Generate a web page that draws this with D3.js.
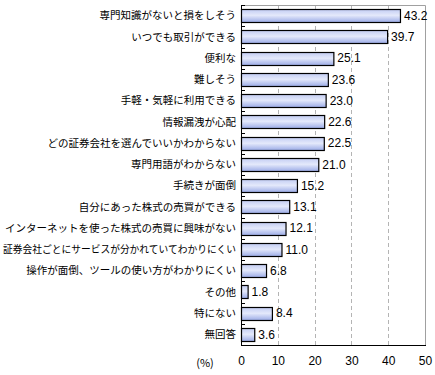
<!DOCTYPE html>
<html>
<head>
<meta charset="utf-8">
<script src="https://cdn.jsdelivr.net/npm/d3@7"></script>
<style>
  body { margin: 0; background: #fff; }
</style>
</head>
<body>
<div id="chart"></div>
<script>
// values
var categories = [
  "専門知識がないと損をしそう",
  "いつでも取引ができる",
  "便利な",
  "難しそう",
  "手軽・気軽に利用できる",
  "情報漏洩が心配",
  "どの証券会社を選んでいいかわからない",
  "専門用語がわからない",
  "手続きが面倒",
  "自分にあった株式の売買ができる",
  "インターネットを使った株式の売買に興味がない",
  "証券会社ごとにサービスが分かれていてわかりにくい",
  "操作が面倒、ツールの使い方がわかりにくい",
  "その他",
  "特にない",
  "無回答"
];
var values = [43.2, 39.7, 25.1, 23.6, 23.0, 22.6, 22.5, 21.0, 15.2, 13.1, 12.1, 11.0, 6.8, 1.8, 8.4, 3.6];
var xTicks = [0, 10, 20, 30, 40, 50];

var width = 435, height = 375;
// note: "top" is reserved on window, so plot edges get their own names
var plotLeft = 241, plotRight = 425, plotTop = 5, plotBottom = 345;

var svg = d3.select("#chart").append("svg")
    .attr("width", width)
    .attr("height", height);

var defs = svg.append("defs");
var grad = defs.append("linearGradient")
    .attr("id", "barfill")
    .attr("x1", 0).attr("y1", 0).attr("x2", 0).attr("y2", 1);
grad.append("stop").attr("offset", "0%").attr("stop-color", "#c3cdf3");
grad.append("stop").attr("offset", "45%").attr("stop-color", "#e4e9fb");
grad.append("stop").attr("offset", "100%").attr("stop-color", "#9aaae6");

var x = d3.scaleLinear().domain([0, 50]).range([plotLeft, plotRight]);
var y = d3.scaleBand().domain(categories).range([plotTop, plotBottom]).paddingInner(0.38).paddingOuter(0.19);
var yb = d3.scaleBand().domain(categories).range([plotTop, plotBottom]);

// gridlines
svg.append("g")
  .selectAll("line")
  .data(xTicks.slice(1, -1))
  .enter().append("line")
  .attr("x1", function (d) { return Math.round(x(d)) + 0.5; })
  .attr("x2", function (d) { return Math.round(x(d)) + 0.5; })
  .attr("y1", plotTop)
  .attr("y2", plotBottom)
  .attr("stroke", "#b4b4b4")
  .attr("stroke-dasharray", "4,3");

// frame top / right
svg.append("path")
  .attr("d", "M" + plotLeft + "," + (plotTop + 0.5) + "H" + (plotRight + 0.5) + "V" + plotBottom)
  .attr("fill", "none")
  .attr("stroke", "#a0a0a0");

// bars
svg.append("g")
  .selectAll("rect")
  .data(values)
  .enter().append("rect")
  .attr("x", x(0) + 0.5)
  .attr("y", function (d, i) { return Math.round(y(categories[i])) + 0.5; })
  .attr("width", function (d) { return x(d) - x(0); })
  .attr("height", Math.round(y.bandwidth()))
  .attr("fill", "url(#barfill)")
  .attr("stroke", "#000")
  .attr("stroke-width", 1.2);

// value labels
svg.append("g")
  .selectAll("text")
  .data(values)
  .enter().append("text")
  .attr("x", function (d) { return x(d) + 4; })
  .attr("y", function (d, i) { return y(categories[i]) + y.bandwidth() / 2; })
  .attr("dy", "0.36em")
  .attr("font-family", "Liberation Sans, Arial, sans-serif")
  .attr("font-size", "12px")
  .attr("fill", "#000")
  .text(function (d) { return d.toFixed(1); });

// category labels
var maxLabel = plotLeft - 8;
svg.append("g")
  .selectAll("text")
  .data(categories)
  .enter().append("text")
  .attr("x", plotLeft - 5)
  .attr("y", function (d) { return y(d) + y.bandwidth() / 2; })
  .attr("dy", "0.36em")
  .attr("text-anchor", "end")
  .attr("font-family", "Noto Sans CJK JP, sans-serif")
  .attr("font-size", "10.5px")
  .attr("fill", "#000")
  .text(function (d) { return d; })
  .each(function () {
    // squeeze the longest ones so they fit like the original
    if (this.getComputedTextLength() > maxLabel) {
      d3.select(this).attr("textLength", maxLabel).attr("lengthAdjust", "spacingAndGlyphs");
    }
  });

// left axis with inner ticks at band edges
svg.append("line")
  .attr("x1", plotLeft + 0.5).attr("x2", plotLeft + 0.5)
  .attr("y1", plotTop).attr("y2", plotBottom + 1)
  .attr("stroke", "#000");
svg.append("g")
  .selectAll("line")
  .data(categories)
  .enter().append("line")
  .attr("x1", plotLeft)
  .attr("x2", plotLeft + 4)
  .attr("y1", function (d) { return Math.round(yb(d)) + 0.5; })
  .attr("y2", function (d) { return Math.round(yb(d)) + 0.5; })
  .attr("stroke", "#000");

// bottom axis
var xAxis = d3.axisBottom(x).tickValues(xTicks).tickSize(0).tickPadding(11);
var gx = svg.append("g")
  .attr("transform", "translate(0," + (plotBottom + 0.5) + ")")
  .call(xAxis);
gx.select(".domain").attr("stroke", "#000").attr("d", "M" + plotLeft + ",0H" + (plotRight + 1));
gx.selectAll("text")
  .attr("font-family", "Liberation Sans, Arial, sans-serif")
  .attr("font-size", "12px")
  .attr("fill", "#000");

svg.append("text")
  .attr("x", 205)
  .attr("y", 363)
  .attr("dy", "0.36em")
  .attr("text-anchor", "middle")
  .attr("font-family", "Noto Sans CJK JP, sans-serif")
  .attr("font-size", "11px")
  .text("(%)");
</script>
</body>
</html>
